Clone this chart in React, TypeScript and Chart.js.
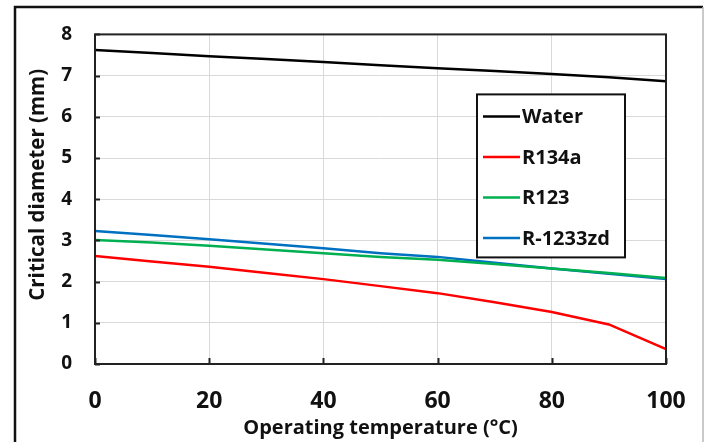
import React, { useEffect, useRef } from "react";
import { Chart, registerables } from "chart.js";

Chart.register(...registerables);

// Operating temperature (°C)
const temperatures = [0, 10, 20, 30, 40, 50, 60, 70, 80, 90, 100];

// Critical diameter (mm) per working fluid
const water = [7.62, 7.55, 7.47, 7.40, 7.33, 7.25, 7.18, 7.11, 7.04, 6.96, 6.86];
const r134a = [2.62, 2.49, 2.36, 2.21, 2.06, 1.89, 1.72, 1.50, 1.26, 0.96, 0.36];
const r123 = [3.01, 2.95, 2.87, 2.78, 2.69, 2.60, 2.53, 2.43, 2.32, 2.21, 2.09];
const r1233zd = [3.23, 3.13, 3.03, 2.92, 2.81, 2.69, 2.60, 2.46, 2.32, 2.19, 2.06];

const seriesNames = ["Water", "R134a", "R123", "R-1233zd"];
const seriesValues = [water, r134a, r123, r1233zd];
const seriesColors = ["#000000", "#ff0000", "#00b050", "#0070c0"];

const xTicks = [0, 20, 40, 60, 80, 100];
const yTicks = [0, 1, 2, 3, 4, 5, 6, 7, 8];

const yTitle = "Critical diameter (mm)";

const FONT = "'Open Sans', 'Liberation Sans', sans-serif";

// Outer frame, plot box, inward tick marks, y title and the boxed legend
const decorPlugin = {
  id: "decor",
  beforeDraw(chart: any) {
    const { ctx, width, height } = chart;
    ctx.save();
    ctx.fillStyle = "#ffffff";
    ctx.fillRect(0, 0, width, height);
    ctx.strokeStyle = "#111111";
    ctx.lineWidth = 2.5;
    ctx.beginPath();
    ctx.moveTo(15, height);
    ctx.lineTo(15, 7);
    ctx.lineTo(width - 7, 7);
    ctx.stroke();
    ctx.strokeStyle = "#b8b8b8";
    ctx.lineWidth = 1.5;
    ctx.beginPath();
    ctx.moveTo(width - 7, 7);
    ctx.lineTo(width - 7, height);
    ctx.stroke();
    ctx.restore();
  },
  afterDraw(chart: any) {
    const { ctx, chartArea } = chart;
    const { left, right, top, bottom } = chartArea;
    const xs = chart.scales.x;
    const ys = chart.scales.y;
    ctx.save();
    // plot box
    ctx.strokeStyle = "#222222";
    ctx.lineWidth = 2;
    ctx.strokeRect(left, top, right - left, bottom - top);
    // inward tick marks
    ctx.lineWidth = 2;
    ctx.beginPath();
    yTicks.forEach((v) => {
      const y = Math.round(ys.getPixelForValue(v)) + 0.5;
      ctx.moveTo(left, y);
      ctx.lineTo(left + 5, y);
    });
    xTicks.forEach((v) => {
      const x = Math.round(xs.getPixelForValue(v)) + 0.5;
      ctx.moveTo(x, bottom);
      ctx.lineTo(x, bottom - 6);
    });
    ctx.stroke();

    // y axis title, rotated
    ctx.save();
    ctx.translate(left - 57, ys.getPixelForValue(4.35));
    ctx.rotate(-Math.PI / 2);
    ctx.font = `bold 20.5px ${FONT}`;
    ctx.fillStyle = "#111111";
    ctx.textAlign = "center";
    ctx.textBaseline = "middle";
    ctx.fillText(yTitle, 0, 0);
    ctx.restore();

    // legend box
    const lx = left + 382;
    const ly = top + 60;
    const lw = 148;
    const lh = 163;
    ctx.fillStyle = "#ffffff";
    ctx.fillRect(lx, ly, lw, lh);
    ctx.strokeStyle = "#111111";
    ctx.lineWidth = 2;
    ctx.strokeRect(lx, ly, lw, lh);
    ctx.font = `bold 20px ${FONT}`;
    ctx.textBaseline = "middle";
    ctx.textAlign = "left";
    chart.data.datasets.forEach((ds: any, i: number) => {
      const cy = ly + 22 + i * 40.5;
      ctx.strokeStyle = ds.borderColor;
      ctx.lineWidth = 2.5;
      ctx.beginPath();
      ctx.moveTo(lx + 6, cy);
      ctx.lineTo(lx + 43, cy);
      ctx.stroke();
      ctx.fillStyle = "#111111";
      ctx.fillText(ds.label, lx + 45, cy + 1);
    });
    ctx.restore();
  },
};

export default function App() {
  const canvasRef = useRef<HTMLCanvasElement | null>(null);

  useEffect(() => {
    if (!canvasRef.current) return;
    const datasets = seriesNames.map((name, i) => ({
      label: name,
      data: temperatures.map((t, j) => ({ x: t, y: seriesValues[i][j] })),
      borderColor: seriesColors[i],
      backgroundColor: seriesColors[i],
      borderWidth: 2.5,
      pointRadius: 0,
      tension: 0,
      fill: false,
    }));

    const chart = new Chart(canvasRef.current, {
      type: "line",
      data: { datasets },
      options: {
        responsive: false,
        animation: false,
        layout: { padding: { left: 15, right: 44, top: 32, bottom: 0 } },
        plugins: {
          legend: { display: false },
          tooltip: { enabled: false },
        },
        scales: {
          x: {
            type: "linear",
            min: 0,
            max: 100,
            afterBuildTicks: (scale: any) => {
              scale.ticks = xTicks.map((v) => ({ value: v }));
            },
            afterFit: (scale: any) => {
              scale.height = 78;
            },
            grid: { color: "#d9d9d9", lineWidth: 1, drawTicks: false },
            border: { display: false },
            ticks: {
              padding: 24,
              color: "#111111",
              maxRotation: 0,
              font: { family: FONT, size: 23, weight: "bold" },
            },
            title: {
              display: true,
              text: "Operating temperature (°C)",
              color: "#111111",
              font: { family: FONT, size: 20, weight: "bold" },
              padding: { top: 0, bottom: 2 },
            },
          },
          y: {
            type: "linear",
            min: 0,
            max: 8,
            afterBuildTicks: (scale: any) => {
              scale.ticks = yTicks.map((v) => ({ value: v }));
            },
            afterFit: (scale: any) => {
              scale.width = 80;
            },
            grid: { color: "#d9d9d9", lineWidth: 1, drawTicks: false },
            border: { display: false },
            ticks: {
              padding: 23,
              color: "#111111",
              font: { family: FONT, size: 19, weight: "bold" },
            },
          },
        },
      },
      plugins: [decorPlugin],
    });

    return () => chart.destroy();
  }, []);

  return (
    <div style={{ position: "fixed", left: 0, top: 0, width: 710, height: 442 }}>
      <canvas ref={canvasRef} width={710} height={442} style={{ display: "block" }} />
    </div>
  );
}
